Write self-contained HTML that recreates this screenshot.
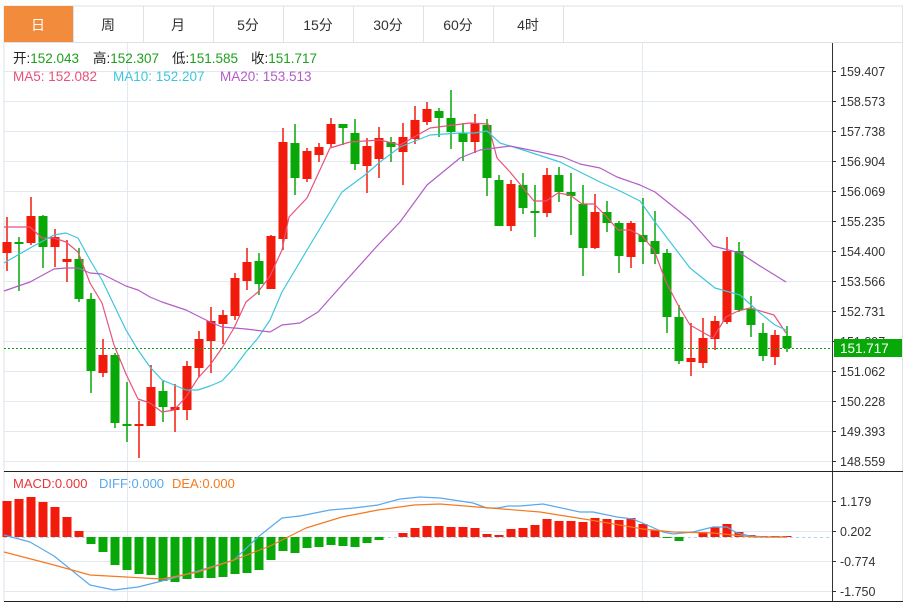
<!DOCTYPE html>
<html><head><meta charset="utf-8"><style>
body{margin:0;background:#fff;width:908px;height:602px;overflow:hidden;font-family:"Liberation Sans","Noto Sans CJK SC",sans-serif;}
svg{display:block}
</style></head><body>
<svg id="s" width="908" height="602" xmlns="http://www.w3.org/2000/svg" font-family="Liberation Sans, Noto Sans CJK SC, sans-serif">
<rect x="0" y="0" width="908" height="602" fill="#fff"/>
<rect x="4" y="6" width="898.5" height="596" fill="none" stroke="#dde2e8"/>
<line x1="4" y1="42.5" x2="903" y2="42.5" stroke="#dde2e8"/>
<rect x="4" y="6" width="69" height="36" fill="#f28c3c"/>
<g stroke="#dde2e8"><line x1="73.5" y1="6" x2="73.5" y2="42"/><line x1="143.5" y1="6" x2="143.5" y2="42"/><line x1="213.5" y1="6" x2="213.5" y2="42"/><line x1="283.5" y1="6" x2="283.5" y2="42"/><line x1="353.5" y1="6" x2="353.5" y2="42"/><line x1="423.5" y1="6" x2="423.5" y2="42"/><line x1="493.5" y1="6" x2="493.5" y2="42"/><line x1="563.5" y1="6" x2="563.5" y2="42"/></g>
<g font-size="14" text-anchor="middle" fill="#333"><text x="38" y="30" fill="#fff">日</text><text x="108" y="30">周</text><text x="178" y="30">月</text><text x="248" y="30">5分</text><text x="318" y="30">15分</text><text x="388" y="30">30分</text><text x="458" y="30">60分</text><text x="528" y="30">4时</text></g>
<g id="grid"></g>
<g font-size="13.5">
<text x="13" y="63" fill="#222">开:<tspan fill="#1ea01e">152.043</tspan></text>
<text x="93" y="63" fill="#222">高:<tspan fill="#1ea01e">152.307</tspan></text>
<text x="172" y="63" fill="#222">低:<tspan fill="#1ea01e">151.585</tspan></text>
<text x="251" y="63" fill="#222">收:<tspan fill="#1ea01e">151.717</tspan></text>
<text x="13" y="81" fill="#e8527a">MA5: 152.082</text><text x="113" y="81" fill="#3ec6dc">MA10: 152.207</text><text x="220" y="81" fill="#b35cc8">MA20: 153.513</text>
<text x="13" y="488" fill="#e8333a" font-size="13">MACD:0.000</text><text x="99" y="488" fill="#5aa8ee" font-size="13">DIFF:0.000</text><text x="172" y="488" fill="#f47a20" font-size="13">DEA:0.000</text>
</g>
<g id="c"></g>
</svg>
<script>
var NS="http://www.w3.org/2000/svg";
function el(p,t,a){var e=document.createElementNS(NS,t);for(var k in a)e.setAttribute(k,a[k]);p.appendChild(e);return e;}
var g=document.getElementById('grid'),c=document.getElementById('c');
var lab=["159.407","158.573","157.738","156.904","156.069","155.235","154.400","153.566","152.731","151.897","151.062","150.228","149.393","148.559"];
for(var i=0;i<14;i++){var y=71+30*i+0.5;el(g,'line',{x1:4,y1:y,x2:832,y2:y,stroke:'#e3e9f0'});el(g,'line',{x1:832,y1:y,x2:836,y2:y,stroke:'#333'});
 var t=el(g,'text',{x:840,y:y+4.5,'font-size':12.5,fill:'#333'});t.textContent=lab[i];}
var ml=[[501.5,"1.179"],[531.5,"0.202"],[561.5,"-0.774"],[591.5,"-1.750"]];
ml.forEach(function(m){el(g,'line',{x1:4,y1:m[0],x2:832,y2:m[0],stroke:'#e3e9f0'});el(g,'line',{x1:832,y1:m[0],x2:836,y2:m[0],stroke:'#333'});var t=el(g,'text',{x:840,y:m[0]+4.5,'font-size':12.5,fill:'#333'});t.textContent=m[1];});
[127.5,642.5].forEach(function(x){el(g,'line',{x1:x,y1:43,x2:x,y2:601,stroke:'#e3e9f0'});});
el(g,'line',{x1:832.5,y1:43,x2:832.5,y2:602,stroke:'#333'});
el(g,'line',{x1:4,y1:471.5,x2:903,y2:471.5,stroke:'#222'});
el(g,'line',{x1:4,y1:601.5,x2:903,y2:601.5,stroke:'#222'});
el(g,'line',{x1:4,y1:537.5,x2:832,y2:537.5,stroke:'#a8d8f0','stroke-dasharray':'3,3'});
var C=[[242,253,217,271,1],[242,243,237,291,0],[216,243,197,245,1],[216,247,215,268,0],[237,247,229,267,1],[259,262,240,282,1],[259,299,248,302,0],[299,371,293,393,0],[355,373,339,377,1],[355,423,353,428,0],
[424,425,382,442,0],[424,426,401,458,1],[387,426,365,426,1],[391,407,381,422,0],[407,410,384,432,1],[366,410,361,420,1],[339,368,331,377,1],[321,341,307,373,1],[315,324,310,344,1],[278,316,273,320,1],
[262,281,248,290,1],[261,284,253,295,0],[236,289,235,289,1],[142,239,128,250,1],[143,178,124,195,0],[151,179,148,182,1],[147,155,143,162,1],[124,144,118,147,1],[124,128,124,145,0],[133,164,119,170,0],
[146,166,138,193,1],[138,159,127,178,1],[142,147,137,162,0],[137,152,123,185,1],[120,139,106,144,1],[109,122,102,125,1],[111,118,108,137,0],[118,132,90,149,0],[133,142,123,161,0],[123,142,114,153,1],
[125,178,119,196,0],[180,226,175,226,0],[184,226,180,231,1],[185,208,173,214,0],[211,213,185,237,0],[175,213,168,217,1],[175,192,167,202,0],[192,196,173,235,0],[204,248,185,276,0],[212,248,194,249,1],
[212,223,201,232,0],[223,256,221,273,0],[223,257,221,268,1],[235,242,198,264,0],[241,254,211,264,0],[253,317,249,333,0],[317,361,305,364,0],[358,362,323,376,1],[338,363,318,368,1],[321,339,316,350,1],
[251,322,237,324,1],[251,310,242,312,0],[309,325,296,337,0],[333,356,323,361,0],[335,357,330,365,1],[336,348,326,352,0]];
var RED='#f21a0a',GRN='#08a808';
C.forEach(function(d,i){var x=7+12*i,col=d[4]?RED:GRN;
 el(c,'line',{x1:x,y1:d[2],x2:x,y2:d[3],stroke:col,'stroke-width':1.5});
 el(c,'rect',{x:x-4.5,y:d[0],width:9,height:Math.max(2,d[1]-d[0]),fill:col});});
function pl(pts,col,w){el(c,'polyline',{points:pts,fill:'none',stroke:col,'stroke-width':w||1.2,'stroke-linejoin':'round'});}
pl("4,227 30,227 42,238 54,238 66,242 78,252 90,283 102,303 114,345 126,374 138,399 150,403 162,412 174,410 186,397 198,378 210,365 222,348 234,328 246,302 258,292 270,276 282,250 289,217 307,198 330,148 350,142 380,140 400,145 430,128 470,123 488,124 497,158 510,172 534,201 546,201 558,193 570,195 582,204 594,204 606,216 618,230 630,230 642,236 654,250 666,282 678,305 690,325 713,338 726,317 738,311 750,308 774,315 786,333","#e8527a");
pl("4,263 30,248 54,235 66,233 78,238 90,260 102,280 114,305 126,330 138,350 150,367 162,380 174,385 186,390 198,390 210,386 222,381 234,368 246,352 258,338 270,320 282,292 307,250 342,192 365,175 380,162 400,147 430,135 460,133 475,133 487,131 500,143 520,149 560,162 600,182 620,191 640,201 655,222 690,268 715,288 740,295 760,313 775,325 786,330","#3ec6dc");
pl("4,291 30,282 54,269 66,268 78,268 90,273 102,274 114,280 126,286 138,290 150,297 162,302 186,310 198,316 210,322 222,327 246,329 270,332 282,325 300,323 318,312 342,285 378,245 400,222 427,185 460,158 480,150 510,146 540,152 563,157 580,164 600,168 617,177 640,185 655,192 690,220 713,246 740,253 760,266 786,282","#b35cc8");
el(c,'line',{x1:4,y1:348.5,x2:832,y2:348.5,stroke:'#0aa00a','stroke-dasharray':'2,2'});
el(c,'rect',{x:834,y:339,width:68,height:18,fill:'#08a808'});
var t=el(c,'text',{x:840,y:353,'font-size':13.5,fill:'#fff'});t.textContent="151.717";
var M=[501,499,497,502,507,517,531,544,552,565,570,574,575,581,582,579,578,578,577,574,573,570,560,551,553,548,547,545,546,547,543,540,537,533,528,526,526,527,527,528,534,535,529,528,525,519,521,521,522,518,519,520,518,524,530,538,541,537,532,527,524,532,535,536,536,536];
M.forEach(function(v,i){var x=7+12*i;if(v<537)el(c,'rect',{x:x-4.5,y:v,width:9,height:537-v,fill:RED});else if(v>537)el(c,'rect',{x:x-4.5,y:537,width:9,height:v-537,fill:GRN});});
pl("4,535 30,542 54,556 90,585 114,590 138,587 162,581 198,571 234,560 258,537 282,518 300,516 330,510 354,508 378,505 400,499 420,497 440,498 473,503 487,508 498,508 508,506 520,506 543,504 580,512 593,512 617,517 633,519 647,525 663,532 673,534 693,532 713,527 727,527 737,533 750,536 767,537 787,537","#5aa8ee");
pl("4,552 54,565 90,575 126,577 162,579 198,572 234,560 270,546 306,528 342,517 378,510 414,505 440,504 490,508 540,512 590,520 643,529 673,532 713,533 733,535 753,537 787,537","#f47a20");
</script>
</body></html>
